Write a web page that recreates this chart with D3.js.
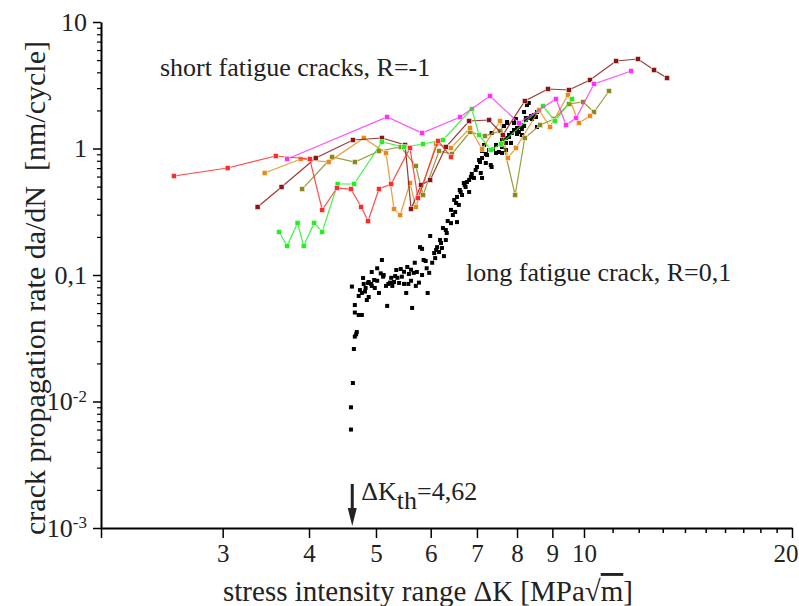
<html>
<head>
<meta charset="UTF-8">
<title>Fatigue crack growth</title>
<script src="https://d3js.org/d3.v7.min.js"></script>
<style>
    body { margin: 0; background: #fff; }
    text { font-family: "Liberation Serif", "Times New Roman", serif; fill: #222; }
    .line { fill: none; stroke-width: 1.2px; stroke-opacity: 0.85; }
    .axis path, .axis line { stroke: #000; }
</style>
</head>
<body>
<svg width="799" height="606"></svg>
<script>
// axis ticks
var xTickVals = [3, 4, 5, 6, 7, 8, 9, 10, 20];
var xMinorVals = [2, 11, 12, 13, 14, 15, 16, 17, 18, 19];
var yTickVals = [0.001, 0.01, 0.1, 1, 10];
var yTickBase = ['10', '10', '0,1', '1', '10'];
var yTickExp = ['-3', '-2', '', '', ''];

// short cracks, R=-1  [dK, da/dN]
var redCrack = [[2.55,0.606],[3.05,0.701],[3.58,0.872],[4.01,0.826],[4.18,0.327],[4.39,0.487],[4.60,0.478],
    [4.76,0.345],[4.87,0.267],[5.05,0.478],[5.26,0.524],[5.60,1.01],[5.75,0.406],[6.15,1.146],[6.42,0.857]];
var magentaCrack = [[3.72,0.826],[5.19,1.774],[5.83,1.326],[6.62,1.774],[7.31,2.60],[8.05,1.591],[9.11,2.462],
    [9.42,1.534],[9.74,1.742],[10.34,3.235],[11.7,4.098]];
var brownCrack = [[3.37,0.345],[3.65,0.496],[4.09,0.841],[4.63,1.167],[5.10,1.211],[5.51,1.066],[5.62,0.333],
    [5.81,0.515],[5.99,0.564],[6.31,1.028],[6.82,1.65],[7.29,1.68],[7.63,1.279],[8.21,2.374],[8.87,2.954],
    [9.51,2.90],[10.2,3.479],[11.13,4.916],[11.97,5.099],[12.63,4.174],[13.19,3.608]];
var orangeCrack = [[3.45,0.64],[3.89,0.826],[4.27,0.782],[4.80,1.211],[5.17,0.921],[5.31,0.333],[5.42,0.298],
    [5.60,0.534],[5.71,0.345],[6.11,1.085],[6.42,1.01],[6.84,1.452],[7.12,0.991],[7.56,1.65],[7.76,0.841],
    [7.97,1.01],[8.61,2.015],[8.93,1.479],[9.48,2.648],[9.83,1.591],[10.2,1.807]];
var oliveCrack = [[3.91,0.478],[4.32,0.857],[4.66,0.782],[5.05,0.956],[5.43,1.028],[5.71,0.727],[5.85,0.429],
    [6.17,0.956],[6.44,0.905],[6.84,1.35],[7.19,1.255],[7.56,1.375],[7.95,0.429],[8.21,1.211],[8.64,1.534],
    [9.05,1.711],[9.51,2.248],[9.97,2.331],[10.34,1.943],[10.87,2.848]];
var greenCrack = [[3.62,0.219],[3.72,0.17],[3.85,0.258],[3.93,0.17],[4.07,0.258],[4.18,0.219],[4.40,0.524],
    [4.65,0.524],[5.10,1.126],[5.49,1.028],[5.85,1.085],[6.15,1.146],[6.25,1.167],[6.88,2.052],[7.05,1.279],
    [7.33,0.973],[7.58,1.085],[8.72,2.167],[9.08,1.65],[9.61,2.462]];

// long crack, R=0,1
var longCrack = [[4.60,0.0060],[4.60,0.0090],[4.63,0.0140],[4.645,0.026],[4.66,0.0326],[4.69,0.0354],[4.68,0.034],
    [4.66,0.0505],[4.72,0.0483],[4.77,0.0483],[4.66,0.0579],[4.615,0.081],[4.72,0.0683],[4.77,0.0721],[4.79,0.0947],
    [4.80,0.085],[4.83,0.079],[4.87,0.0865],[4.88,0.088],[4.92,0.085],[4.93,0.082],[4.85,0.0634],[4.88,0.067],
    [4.93,0.1056],[4.97,0.0913],[4.98,0.079],[5.02,0.113],[5.05,0.0721],[5.10,0.1314],[5.08,0.103],[5.13,0.100],
    [5.17,0.082],[5.19,0.057],[5.21,0.085],[5.26,0.095],[5.28,0.082],[5.31,0.088],[5.35,0.1095],[5.37,0.095],
    [5.40,0.0865],[5.43,0.1115],[5.45,0.097],[5.49,0.085],[5.53,0.0721],[5.55,0.1157],[5.58,0.1019],[5.62,0.090],
    [5.64,0.0549],[5.67,0.104],[5.71,0.082],[5.73,0.1056],[5.69,0.125],[5.79,0.166],[5.83,0.161],[5.86,0.1314],
    [5.90,0.129],[5.92,0.113],[5.94,0.0721],[5.97,0.104],[5.99,0.2034],[6.03,0.125],[6.07,0.149],[6.11,0.1576],
    [6.13,0.166],[6.17,0.152],[6.21,0.179],[6.23,0.1635],[6.27,0.141],[6.31,0.2269],[6.33,0.2148],[6.35,0.267],
    [6.42,0.257],[6.46,0.298],[6.51,0.315],[6.55,0.262],[6.49,0.392],[6.53,0.371],[6.55,0.414],[6.63,0.453],
    [6.66,0.429],[6.70,0.534],[6.74,0.496],[6.77,0.543],[6.82,0.453],[6.86,0.595],[6.88,0.629],[6.93,0.585],
    [6.97,0.676],[7.00,0.714],[7.09,0.640],[7.12,0.585],[7.05,0.811],[7.21,0.768],[7.24,0.888],[7.33,0.740],
    [7.35,0.714],[7.46,0.921],[7.53,0.938],[7.61,0.921],[6.61,0.470],[6.72,0.515],[6.82,0.564],[7.07,0.782],
    [7.12,0.841],[7.21,0.905],[7.29,0.973],[7.38,0.991],[7.46,1.066],[7.61,1.126],[7.66,1.211],[7.71,1.106],
    [7.79,1.279],[7.86,1.326],[7.95,1.400],[8.00,1.302],[8.08,1.479],[8.13,1.425],[8.19,1.943],[8.24,1.742],
    [7.97,1.711],[7.74,1.591],[7.66,1.506],[7.35,1.326],[7.12,0.956],[7.17,1.066],[7.61,1.167],[7.71,1.211],
    [7.79,1.233],[7.92,1.400],[8.00,1.452],[8.05,1.350],[8.10,1.534],[8.19,1.506],[8.24,1.680],[8.32,1.742],
    [8.38,1.807],[8.41,1.711],[8.46,1.840],[8.52,1.774],[8.55,1.943],[8.61,1.979],[8.27,2.207],[8.32,2.29],
    [7.74,1.620],[7.92,1.591],[7.61,1.028],[7.71,0.973],[7.84,1.106],[8.13,1.279],[8.55,1.479],[4.74,0.076],
    [4.82,0.074],[5.02,0.090],[5.12,0.097],[5.24,0.087],[5.33,0.098],[5.49,0.106],[5.57,0.085],[5.62,0.110],
    [5.77,0.087],[5.83,0.100],[6.19,0.189],[6.09,0.136],[6.31,0.189],[6.42,0.327],[6.59,0.358],[6.25,0.235]];

var threshold = 4.62;

var shortCracks = [
    { id: 'olive', color: '#8a8a1c', values: oliveCrack },
    { id: 'orange', color: '#e88a1a', values: orangeCrack },
    { id: 'brown', color: '#8b1414', values: brownCrack },
    { id: 'green', color: '#22ee22', values: greenCrack },
    { id: 'red', color: '#ff2a2a', values: redCrack },
    { id: 'magenta', color: '#ff30ff', values: magentaCrack }
];

var svg = d3.select('svg');

var x_scale = d3.scaleLog().domain([2, 20]).range([101, 792]),
    y_scale = d3.scaleLog().domain([0.001, 10]).range([528, 22]);

// x axis
var xAxis = svg.append('g')
    .attr('class', 'axis')
    .attr('transform', 'translate(0,528)')
    .call(d3.axisBottom(x_scale).tickValues(xTickVals).tickFormat(d3.format('d')).tickSize(10).tickSizeOuter(0).tickPadding(6));
xAxis.select('.domain').attr('stroke-width', 2);
xAxis.selectAll('line').attr('stroke-width', 1.5);
xAxis.selectAll('text').style('font-size', '25px').attr('fill', '#222');
xAxis.selectAll('.tick').filter(d => d === 20).select('text').attr('text-anchor', 'end').attr('x', 6);

svg.append('g')
    .attr('class', 'axis')
    .attr('transform', 'translate(0,528)')
    .call(d3.axisBottom(x_scale).tickValues(xMinorVals).tickFormat('').tickSize(5).tickSizeOuter(0))
    .call(g => g.select('.domain').remove())
    .call(g => g.selectAll('.tick').filter(d => d === 2).select('line').attr('y2', 10))
    .selectAll('line').attr('stroke-width', 1.5);

// y axis
var yMinor = [];
yTickVals.slice(0, -1).forEach(function (v) {
    for (var k = 2; k <= 9; k++) yMinor.push(v * k);
});

var yAxis = svg.append('g')
    .attr('class', 'axis')
    .attr('transform', 'translate(101,0)')
    .call(d3.axisLeft(y_scale).tickValues(yTickVals).tickSize(8).tickSizeOuter(0).tickPadding(6)
        .tickFormat(() => ''));
yAxis.select('.domain').attr('stroke-width', 2);
yAxis.selectAll('line').attr('stroke-width', 1.5);
yAxis.selectAll('.tick text')
    .style('font-size', '26px')
    .attr('fill', '#222')
    .each(function (d, i) {
        var t = d3.select(this);
        t.append('tspan').text(yTickBase[i]);
        if (yTickExp[i]) t.append('tspan').attr('dy', '-0.5em').style('font-size', '17px').text(yTickExp[i]);
    });

svg.append('g')
    .attr('class', 'axis')
    .attr('transform', 'translate(101,0)')
    .call(d3.axisLeft(y_scale).tickValues(yMinor).tickFormat('').tickSize(4).tickSizeOuter(0))
    .call(g => g.select('.domain').remove())
    .selectAll('line').attr('stroke-width', 1.2);

// long crack scatter
svg.append('g').selectAll('rect')
    .data(longCrack)
    .enter().append('rect')
    .attr('x', d => x_scale(d[0]) - 2)
    .attr('y', d => y_scale(d[1]) - 2)
    .attr('width', 4)
    .attr('height', 4)
    .attr('fill', '#000');

// short crack lines
var line = d3.line()
    .x(d => x_scale(d[0]))
    .y(d => y_scale(d[1]));

var crack = svg.selectAll('.crack')
    .data(shortCracks)
    .enter().append('g')
    .attr('class', 'crack');

crack.append('path')
    .attr('class', 'line')
    .attr('d', d => line(d.values))
    .style('stroke', d => d.color);

crack.selectAll('rect')
    .data(d => d.values.map(v => ({ v: v, color: d.color })))
    .enter().append('rect')
    .attr('x', d => x_scale(d.v[0]) - 2.5)
    .attr('y', d => y_scale(d.v[1]) - 2.5)
    .attr('width', 5)
    .attr('height', 5)
    .attr('fill', d => d.color)
    .attr('stroke', '#fff')
    .attr('stroke-width', 0.5);

// annotations
svg.append('text')
    .attr('x', 160).attr('y', 76)
    .style('font-size', '26px')
    .text('short fatigue cracks, R=-1');

svg.append('text')
    .attr('x', 466).attr('y', 281)
    .style('font-size', '26px')
    .text('long fatigue crack, R=0,1');

// threshold arrow
var ax = x_scale(threshold);
svg.append('line')
    .attr('x1', ax).attr('x2', ax)
    .attr('y1', 484).attr('y2', 512)
    .attr('stroke', '#222').attr('stroke-width', 3);
svg.append('path')
    .attr('d', 'M' + (ax - 4.5) + ',508 L' + (ax + 4.5) + ',508 L' + ax + ',526 Z')
    .attr('fill', '#222');

var th = svg.append('text')
    .attr('x', ax + 9).attr('y', 500)
    .style('font-size', '26px');
th.append('tspan').text('\u0394K');
th.append('tspan').attr('dy', '0.35em').text('th');
th.append('tspan').attr('dy', '-0.35em').text('=4,62');

// axis titles
svg.append('text')
    .attr('transform', 'translate(45,288) rotate(-90)')
    .attr('text-anchor', 'middle')
    .style('font-size', '30px')
    .style('white-space', 'pre')
    .text('crack propagation rate da/dN  [nm/cycle]');

var xt = svg.append('text')
    .attr('x', 428).attr('y', 601)
    .attr('text-anchor', 'middle')
    .style('font-size', '29px');
xt.append('tspan').text('stress intensity range \u0394K [MPa\u221A');
xt.append('tspan').style('text-decoration', 'overline').text('m');
xt.append('tspan').text(']');
</script>
</body>
</html>
